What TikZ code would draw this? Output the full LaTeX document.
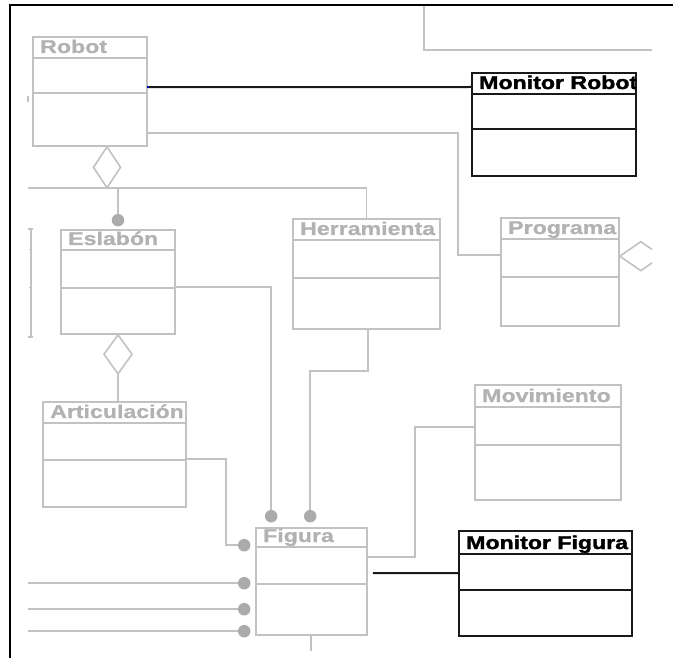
\documentclass[tikz,border=0pt]{standalone}
\usepackage{fontspec}
\newfontfamily\umlfont[FakeStretch=1.25,FakeBold=0.8]{Liberation Sans}
\newfontfamily\inkfont[FakeStretch=1.25,FakeBold=2]{Liberation Sans}
\usetikzlibrary{fit}

\definecolor{umlline}{gray}{0.76}
\definecolor{umltext}{gray}{0.70}
\definecolor{umldot}{gray}{0.67}
\definecolor{umlink}{gray}{0.10}

\tikzset{
  graycls/.style={draw=umlline, line width=1.6pt},
  graycls title/.style={text=umltext, font=\umlfont\bfseries\fontsize{18.5}{20}\selectfont},
  inkcls/.style={draw=umlink, line width=2pt},
  inkcls title/.style={text=black, font=\inkfont\bfseries\fontsize{18.5}{20}\selectfont},
  grayline/.style={draw=umlline, line width=1.6pt},
  inkline/.style={draw=umlink, line width=2pt},
  joint/.style={circle, fill=umldot, inner sep=0pt, minimum size=12.5pt},
  frameline/.style={draw=black, line width=2.6pt},
}

% class box: name, style, x1, y1, x2, y2, header line y, middle line y, title
\newcommand\umlclass[9]{%
  \node[#2, fit={(#3,#4) (#5,#6)}, inner sep=0pt] (#1) {};
  \draw[#2] (#3,#7) -- (#5,#7) (#3,#8) -- (#5,#8);
  \begin{scope}
    \clip (#3,#4) rectangle (#5,#7);
    \node[anchor=base west, inner sep=0pt, #2 title] (#1-title) at (#3+7,#7-5) {#9};
  \end{scope}
}

\begin{document}
\begin{tikzpicture}[x=1pt, y=-1pt]
\useasboundingbox (0,0) rectangle (673,658);
\fill[white] (0,0) rectangle (673,658);

% classes
\umlclass{robot}{graycls}{33}{37}{147}{146}{58}{93}{Robot}
\umlclass{mrobot}{inkcls}{472}{73}{636}{176}{94}{129}{Monitor Robot}
\umlclass{eslabon}{graycls}{61}{230}{175}{334}{250}{288}{Eslabón}
\umlclass{herr}{graycls}{293}{219}{440}{329}{240}{278}{Herramienta}
\umlclass{prog}{graycls}{501}{218}{619}{326}{239}{277}{Programa}
\umlclass{mov}{graycls}{475}{385}{621}{500}{407}{445}{Movimiento}
\umlclass{artic}{graycls}{43}{402}{186}{507}{423}{460}{Articulación}
\umlclass{figura}{graycls}{256}{528}{367}{635}{547}{584}{Figura}
\umlclass{mfig}{inkcls}{459}{531}{632}{636}{554}{590}{Monitor Figura}

% left edge of the visible area and the joints on Figura
\coordinate (leftedge) at (28,0);
\node[joint] (fd1) at ([xshift=16pt,yshift=11pt]figura.north west) {};
\node[joint] (fd2) at ([xshift=55pt,yshift=11pt]figura.north west) {};
\node[joint] (fd3) at ([xshift=-11pt,yshift=-18pt]figura.north west) {};
\node[joint] (fd4) at ([xshift=-11pt,yshift=-56pt]figura.north west) {};
\node[joint] (fd5) at ([xshift=-11pt,yshift=-82pt]figura.north west) {};
\node[joint] (fd6) at ([xshift=-11pt,yshift=-104pt]figura.north west) {};
\node[joint] (ed1) at ([yshift=9pt]eslabon.north) {};

% Robot -- Monitor Robot
\draw[inkline] ([yshift=-51pt]robot.north east) -- ([yshift=-15pt]mrobot.north west);
\fill[blue!70!black] ([yshift=-51pt]robot.north east) ++(-0.8,-0.8) rectangle ++(1.6,1.6);

% Robot -- Programa
\draw[grayline] ([yshift=-97pt]robot.north east) -- ++(310,0) |- ([yshift=-38pt]prog.north west);

% Robot aggregation diamond and its branches
\coordinate (rdt) at ([xshift=17pt]robot.south);
\draw[grayline] (rdt) -- ++(13.5,20.5) -- ++(-13.5,20.5) coordinate (rdb) -- ++(-13.5,-20.5) -- cycle;
\draw[grayline] (rdb -| leftedge) -- (rdb -| herr.north) -- (herr.north);
\draw[grayline] (rdb -| ed1) -- (ed1);

% Eslabón aggregation diamond down to Articulación
\draw[grayline] (eslabon.south) -- ++(14,19.5) -- ++(-14,19.5) coordinate (edb) -- ++(-14,-19.5) -- cycle;
\draw[grayline] (edb) -- (edb |- artic.north);

% links into Figura
\draw[grayline] ([yshift=-58pt]eslabon.north east) -| (fd1);
\draw[grayline] ([xshift=1.5pt]herr.south) -- ++(0,41) -| (fd2);
\draw[grayline] ([yshift=-58pt]artic.north east) -- ++(39,0) |- (fd3);
\draw[grayline] (leftedge |- fd4) -- (fd4);
\draw[grayline] (leftedge |- fd5) -- (fd5);
\draw[grayline] (leftedge |- fd6) -- (fd6);
\draw[grayline] ([xshift=-0.5pt]figura.south) -- ++(0,15);

% Figura -- Movimiento and Figura -- Monitor Figura
\draw[grayline] ([yshift=-30pt]figura.north east) -- ++(47,0) |- ([yshift=-43pt]mov.north west);
\draw[inkline] ([xshift=5pt,yshift=-46pt]figura.north east) -- ([yshift=-43pt]mfig.north west);

% diamond on the right of Programa, cut by the edge of the view
\begin{scope}
  \clip (0,0) rectangle (652,658);
  \draw[grayline] ([yshift=-39pt]prog.north east) -- ++(21,-14.5) -- ++(21,14.5) -- ++(-21,14.5) -- cycle;
\end{scope}

% fragments of classes outside the view
\draw[grayline] (424,5) -- (424,50) -- (652,50);
\draw[grayline] (31,229) -- (31,337);
\draw[grayline] (28,229) -- (33,229) (28,337) -- (33,337);
\draw[grayline, line width=1pt] (29,250) -- (31,250) (29,288) -- (31,288);
\draw[grayline] (28,96) -- (28,102);

% frame
\draw[frameline] (673,5) -- (10,5) -- (10,658);
\end{tikzpicture}
\end{document}
